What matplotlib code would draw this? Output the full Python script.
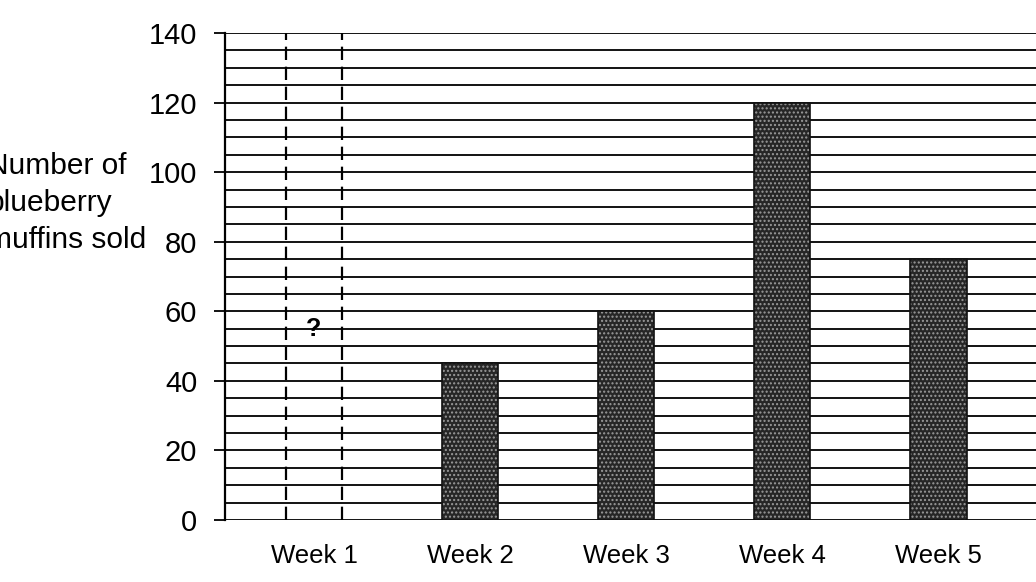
import matplotlib
matplotlib.use("Agg")
import matplotlib.pyplot as plt
import numpy as np

# ---- data ----
weeks = ["Week 1", "Week 2", "Week 3", "Week 4", "Week 5"]
known_weeks = ["Week 2", "Week 3", "Week 4", "Week 5"]
muffins_sold = [45, 60, 120, 75]
unknown_week = "Week 1"
unknown_mark = "?"
unknown_label_value = 55
y_major_ticks = [0, 20, 40, 60, 80, 100, 120, 140]
y_grid_step = 5
y_max = 140
y_label = "Number of\nblueberry\nmuffins sold"

plt.rcParams["font.family"] = ["Liberation Sans", "DejaVu Sans"]

W, H = 1036, 582
fig = plt.figure(figsize=(W / 100, H / 100), dpi=100)
fig.patch.set_facecolor("white")

ax = fig.add_axes([225 / W, (H - 520) / H, (1040 - 225) / W, (520 - 33) / H])

x = np.arange(len(weeks))
xpos = {w: i for i, w in enumerate(weeks)}
bar_w = 0.36

# horizontal grid lines every 5 units
for gy in np.arange(0, y_max + y_grid_step, y_grid_step):
    ax.axhline(gy, color="black", lw=1.3, zorder=1)

# bars with speckled look
kx = [xpos[w] for w in known_weeks]
ax.bar(kx, muffins_sold, width=bar_w, color="#262626", edgecolor="#9a9a9a",
       hatch="....", linewidth=0, zorder=3)
ax.bar(kx, muffins_sold, width=bar_w, fill=False, edgecolor="#111111",
       linewidth=1.2, zorder=4)

# unknown week: dashed outline
ux = xpos[unknown_week]
ax.vlines([ux - bar_w / 2, ux + bar_w / 2], 0, y_max, colors="black",
          linestyles=(0, (6, 3)), lw=1.6, zorder=4)
ax.text(ux, unknown_label_value, unknown_mark, ha="center", va="center",
        fontsize=18, fontweight="bold", zorder=5)

ax.set_xlim(-0.57, 4.65)
ax.set_ylim(0, y_max)
ax.set_yticks(y_major_ticks)
ax.set_yticklabels([str(v) for v in y_major_ticks], fontsize=21)
ax.set_xticks(x)
ax.set_xticklabels(weeks, fontsize=18.5)

ax.tick_params(axis="y", length=8, width=1.3, pad=12, color="black")
ax.tick_params(axis="x", length=0, pad=17)

for s in ["top", "right", "bottom"]:
    ax.spines[s].set_visible(False)
ax.spines["left"].set_linewidth(1.6)
ax.spines["left"].set_zorder(5)

fig.text(-13 / W, 1 - 203 / H, y_label, ha="left", va="center",
         fontsize=21.5, linespacing=1.4, multialignment="left")

fig.savefig("out.png", dpi=100, facecolor="white")
